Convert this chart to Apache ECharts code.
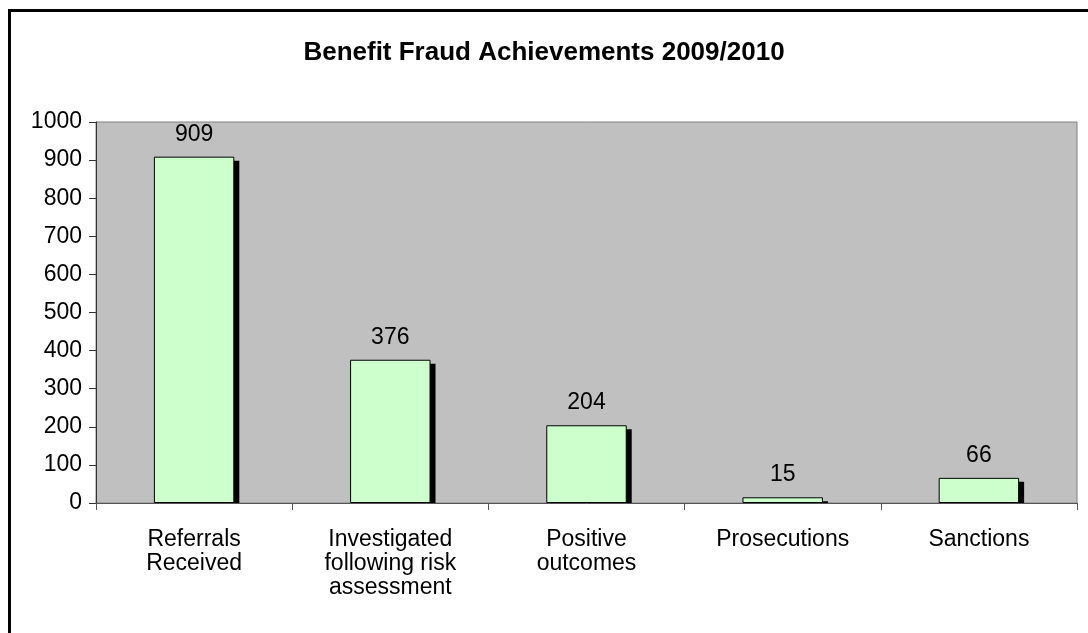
<!DOCTYPE html>
<html>
<head>
<meta charset="utf-8">
<script src="https://cdn.jsdelivr.net/npm/echarts@6/dist/echarts.min.js"></script>
<style>html,body{margin:0;padding:0;background:#fff}#c{width:1088px;height:633px}</style>
</head>
<body>
<div id="c"></div>
<script>
var titleText = 'Benefit Fraud Achievements 2009/2010';
var categories = ['Referrals\nReceived', 'Investigated\nfollowing risk\nassessment', 'Positive\noutcomes', 'Prosecutions', 'Sanctions'];
var values = [909, 376, 204, 15, 66];
var yMin = 0, yMax = 1000, yStep = 100;

var chart = echarts.init(document.getElementById('c'));
var font = 'Liberation Sans, Arial, sans-serif';
var barFrac = 0.41;
chart.setOption({
  animation: false,
  backgroundColor: '#fff',
  title: {
    text: titleText, left: 'center', top: 35,
    textStyle: {fontFamily: font, fontSize: 26, fontWeight: 'bold', color: '#000'}
  },
  graphic: [{
    type: 'rect', left: 7, top: 8, z: 100,
    shape: {width: 1200, height: 800},
    style: {fill: 'none', stroke: '#000', lineWidth: 3}
  }],
  grid: {
    left: 96, right: 11, top: 122, bottom: 130,
    show: true, backgroundColor: '#c0c0c0', borderColor: '#808080', borderWidth: 1
  },
  xAxis: {
    type: 'category', data: categories, boundaryGap: true,
    axisLine: {lineStyle: {color: '#555', width: 1}, onZero: false},
    axisTick: {show: true, alignWithLabel: false, length: 7, lineStyle: {color: '#555'}},
    axisLabel: {interval: 0, margin: 25, fontFamily: font, fontSize: 23, color: '#000', lineHeight: 24}
  },
  yAxis: {
    type: 'value', min: yMin, max: yMax, interval: yStep,
    splitLine: {show: false},
    axisLine: {show: true, lineStyle: {color: '#333', width: 1}},
    axisTick: {show: true, length: 7, lineStyle: {color: '#333'}},
    axisLabel: {margin: 14, fontFamily: font, fontSize: 23, color: '#000', formatter: function (v) { return String(v); }}
  },
  series: [{
    type: 'custom', z: 1,
    data: values.map(function (v, i) { return [i, v]; }),
    renderItem: function (params, api) {
      var top = api.coord([api.value(0), api.value(1)]);
      var base = api.coord([api.value(0), 0]);
      var w = api.size([1, 0])[0] * barFrac;
      var x = top[0] - w / 2 + 5;
      var y = top[1] + 4;
      return {
        type: 'rect',
        shape: {x: x, y: y, width: w, height: Math.max(0, base[1] - y)},
        style: {fill: '#000'}
      };
    }
  }, {
    type: 'bar', data: values, barWidth: (barFrac * 100) + '%', z: 2,
    itemStyle: {color: '#ccffcc', borderColor: '#000', borderWidth: 1},
    label: {show: true, position: 'top', distance: 11, fontFamily: font, fontSize: 23, color: '#000'}
  }]
});
</script>
</body>
</html>
